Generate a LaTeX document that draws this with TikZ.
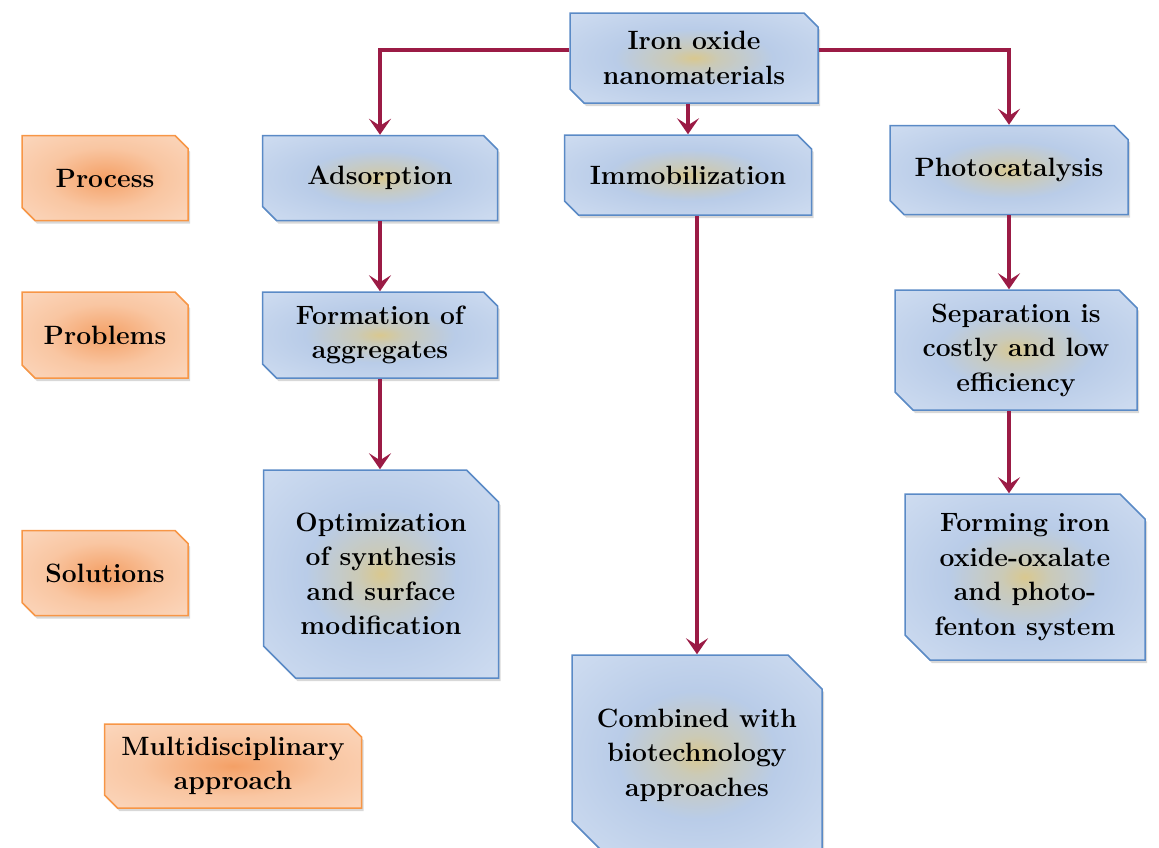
\documentclass[tikz,border=0pt]{standalone}
\usepackage{fontspec}
\usepackage{tikz}
\usetikzlibrary{arrows.meta,positioning,shapes.misc,shadows}

\definecolor{linkred}{HTML}{9B1B45}
\definecolor{boxline}{HTML}{5A8AC6}
\definecolor{boxedge}{HTML}{DAE5F5}
\definecolor{boxmid}{HTML}{B9CCE8}
\definecolor{boxcore}{HTML}{D9C88F}
\definecolor{tagline}{HTML}{F79646}
\definecolor{tagedge}{HTML}{FCE0CC}
\definecolor{tagmid}{HTML}{F9C6A2}
\definecolor{tagcore}{HTML}{F4A066}
\pgfdeclareradialshading{blueshade}{\pgfpoint{0bp}{0bp}}{color(0bp)=(boxcore); color(5bp)=(boxcore!55!boxmid); color(16bp)=(boxmid); color(46bp)=(boxedge); color(72bp)=(boxedge)}
\pgfdeclareradialshading{orangeshade}{\pgfpoint{0bp}{0bp}}{color(0bp)=(tagcore); color(18bp)=(tagmid); color(45bp)=(tagedge); color(72bp)=(tagedge)}

\begin{document}
\begin{tikzpicture}[x=1pt,y=-1pt,
  box/.style={chamfered rectangle, chamfered rectangle corners={north east,south west},
    draw=boxline, line width=1.5pt, shade, shading=blueshade,
    drop shadow={shadow xshift=2pt,shadow yshift=-3pt,fill=black!30},
    align=center, inner sep=2pt, text=black, font=\fontsize{26.5}{34.5}\selectfont\bfseries},
  tag/.style={box, draw=tagline, shading=orangeshade},
  snip/.style={chamfered rectangle xsep=#1, chamfered rectangle ysep=#1},
  link/.style={draw=linkred, line width=3.5pt, -{Stealth[length=16pt,width=22pt,inset=7pt]}}]
  \useasboundingbox (0,0) rectangle (1159,847);
  \clip (0,0) rectangle (1159,847);
  % left column
  \node[tag,snip=6.5pt,minimum width=166pt,minimum height=85pt] (process) at (105,178) {Process};
  \node[tag,snip=6.5pt,minimum width=166pt,minimum height=86pt] (problems) at (105,335) {Problems};
  \node[tag,snip=6.5pt,minimum width=166pt,minimum height=85pt] (solutions) at (105,573) {Solutions};
  \node[tag,snip=6.5pt,minimum width=257pt,minimum height=84pt] (multi) at (233,766) {Multidisciplinary\\approach};
  % main boxes
  \node[box,snip=7pt,minimum width=248pt,minimum height=90pt] (iron) at (694,58) {Iron oxide\\nanomaterials};
  \node[box,snip=7pt,minimum width=235pt,minimum height=85pt] (adsorp) at (380,178) {Adsorption};
  \node[box,snip=7pt,minimum width=247pt,minimum height=80pt] (immob) at (688,175) {Immobilization};
  \node[box,snip=7pt,minimum width=238pt,minimum height=89pt] (photo) at (1009,170) {Photocatalysis};
  \node[box,snip=7pt,minimum width=235pt,minimum height=86pt] (aggreg) at (380,335) {Formation of\\aggregates};
  \node[box,snip=9pt,minimum width=242pt,minimum height=120pt] (separ) at (1016,350) {Separation is\\costly and low\\efficiency};
  \node[box,snip=16pt,minimum width=235pt,minimum height=208pt] (optim) at (381,574) {Optimization\\of synthesis\\and surface\\modification};
  \node[box,snip=12.5pt,minimum width=240pt,minimum height=166pt] (forming) at (1025,577) {Forming iron\\oxide-oxalate\\and photo-\\fenton system};
  \node[box,snip=17pt,minimum width=250pt,minimum height=200pt] (combined) at (697,755) {Combined with\\biotechnology\\approaches};
  % connectors
  \draw[link] ([yshift=8pt]iron.west) -| (adsorp.north);
  \draw[link] ([yshift=8pt]iron.east) -| (photo.north);
  \draw[link] (immob.north |- iron.south) -- (immob.north);
  \draw[link] (combined.north |- immob.south) -- (combined.north);
  \draw[link] (adsorp.south) -- (aggreg.north);
  \draw[link] (aggreg.south) -- (aggreg.south |- optim.north);
  \draw[link] (photo.south) -- (photo.south |- separ.north);
  \draw[link] (photo.south |- separ.south) -- (photo.south |- forming.north);
\end{tikzpicture}
\end{document}
